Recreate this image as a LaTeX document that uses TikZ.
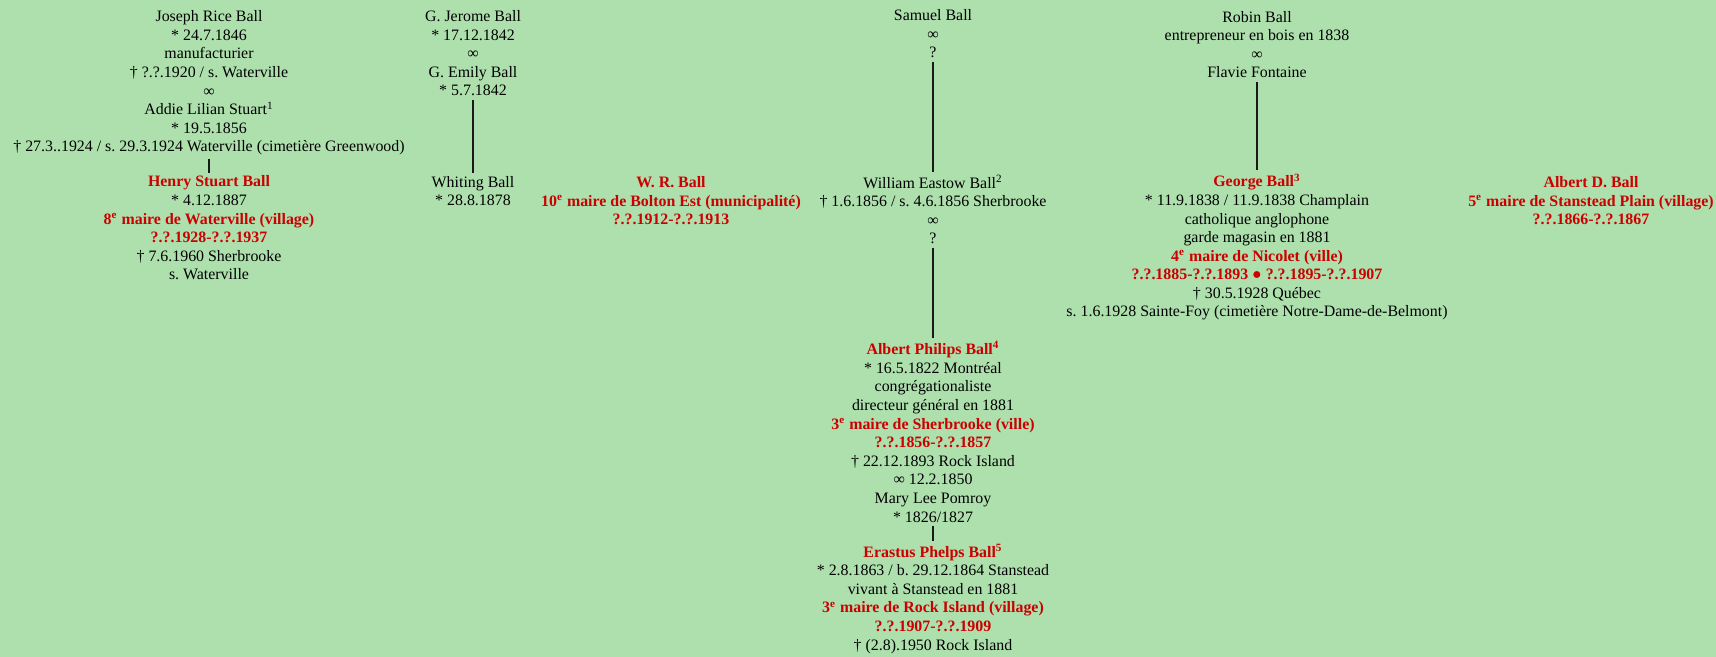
\documentclass[tikz,border=0pt]{standalone}
\usepackage{fontspec}
\setmainfont{Liberation Serif}
\frenchspacing
\definecolor{bg}{RGB}{174,224,174}
\definecolor{rd}{RGB}{204,0,0}
\newcommand{\rb}[1]{\textcolor{rd}{\textbf{#1}}}
\tikzset{
  fam/.style={align=center, anchor=base, inner xsep=0pt, inner ysep=1.5pt,
    font=\fontsize{7.95pt}{9.3pt}\selectfont\frenchspacing},
  link/.style={line width=0.9pt, draw=black!90}
}
\begin{document}
\begin{tikzpicture}[x=0.5pt,y=-0.5pt]
\fill[bg] (0,0) rectangle (1716,657);
\useasboundingbox (0,0) rectangle (1716,657);

% column 1 (positions: baseline of last line)
\node[fam] (jr) at (209,152) {Joseph Rice Ball\\{}* 24.7.1846\\manufacturier\\† ?.?.1920 / s. Waterville\\∞\\Addie Lilian Stuart\textsuperscript{1}\\{}* 19.5.1856\\† 27.3..1924 / s. 29.3.1924 Waterville (cimetière Greenwood)};
\node[fam] (hs) at (209,280) {\rb{Henry Stuart Ball}\\{}* 4.12.1887\\\rb{8\textsuperscript{e} maire de Waterville (village)}\\\rb{?.?.1928-?.?.1937}\\† 7.6.1960 Sherbrooke\\s. Waterville};
\draw[link] (jr.south) -- (hs.north);

% column 2
\node[fam] (gj) at (473,96) {G. Jerome Ball\\{}* 17.12.1842\\∞\\G. Emily Ball\\{}* 5.7.1842};
\node[fam] (wb) at (473,206) {Whiting Ball\\{}* 28.8.1878};
\draw[link] (gj.south) -- (wb.north);

% W. R. Ball
\node[fam] (wr) at (671,225) {\rb{W. R. Ball}\\\rb{10\textsuperscript{e} maire de Bolton Est (municipalité)}\\\rb{?.?.1912-?.?.1913}};

% Samuel column
\node[fam] (sb) at (933,58) {Samuel Ball\\∞\\?};
\node[fam] (we) at (933,244) {William Eastow Ball\textsuperscript{2}\\† 1.6.1856 / s. 4.6.1856 Sherbrooke\\∞\\?};
\node[fam] (ap) at (933,522) {\rb{Albert Philips Ball\textsuperscript{4}}\\{}* 16.5.1822 Montréal\\congrégationaliste\\directeur général en 1881\\\rb{3\textsuperscript{e} maire de Sherbrooke (ville)}\\\rb{?.?.1856-?.?.1857}\\† 22.12.1893 Rock Island\\∞ 12.2.1850\\Mary Lee Pomroy\\{}* 1826/1827};
\node[fam] (ep) at (933,650) {\rb{Erastus Phelps Ball\textsuperscript{5}}\\{}* 2.8.1863 / b. 29.12.1864 Stanstead\\vivant à Stanstead en 1881\\\rb{3\textsuperscript{e} maire de Rock Island (village)}\\\rb{?.?.1907-?.?.1909}\\† (2.8).1950 Rock Island};
\draw[link] (sb.south) -- (we.north);
\draw[link] (we.south) -- (ap.north);
\draw[link] (ap.south) -- (ep.north);

% Robin column
\node[fam] (rb) at (1257,78) {Robin Ball\\entrepreneur en bois en 1838\\∞\\Flavie Fontaine};
\node[fam] (gb) at (1257,317) {\rb{George Ball\textsuperscript{3}}\\{}* 11.9.1838 / 11.9.1838 Champlain\\catholique anglophone\\garde magasin en 1881\\\rb{4\textsuperscript{e} maire de Nicolet (ville)}\\\rb{?.?.1885-?.?.1893 ● ?.?.1895-?.?.1907}\\† 30.5.1928 Québec\\s. 1.6.1928 Sainte-Foy (cimetière Notre-Dame-de-Belmont)};
\draw[link] (rb.south) -- (gb.north);

% Albert D. Ball
\node[fam] (ad) at (1591,225) {\rb{Albert D. Ball}\\\rb{5\textsuperscript{e} maire de Stanstead Plain (village)}\\\rb{?.?.1866-?.?.1867}};
\end{tikzpicture}
\end{document}
